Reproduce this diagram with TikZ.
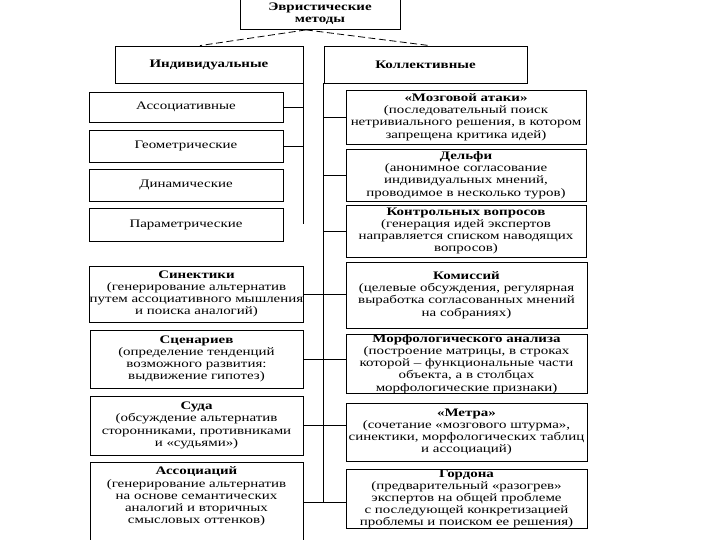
\documentclass[tikz,border=0pt]{standalone}
\usepackage{fontspec}
\setmainfont[FakeStretch=1.3]{Liberation Serif}
\begin{document}
\begin{tikzpicture}[x=1pt,y=-1pt,
  box/.style={draw, line width=0.8pt, align=center, inner sep=0pt,
    font=\fontsize{11.5}{12.2}\selectfont},
  link/.style={line width=0.8pt},
  dashlink/.style={line width=0.8pt, dash pattern=on 7pt off 3.5pt}]
\useasboundingbox (0,0) rectangle (720,540);
\clip (0,0) rectangle (720,540);
\fill[white] (0,0) rectangle (720,540);
% header
\node[box, minimum width=160pt, minimum height=32pt, font=\fontsize{11.5}{11.5}\selectfont] (top) at (320,13.5) {\textbf{Эвристические}\\\textbf{методы}};
\node[box, minimum width=188pt, minimum height=37pt] (ind) at (209,64.5) {\textbf{Индивидуальные}};
\node[box, minimum width=203pt, minimum height=37pt] (col) at (425.5,64.5) {\textbf{Коллективные}};
% individual
\node[box, minimum width=194pt, minimum height=30pt] (ass) at (186,107) {Ассоциативные};
\node[box, minimum width=194pt, minimum height=32pt] (geo) at (186,146) {Геометрические};
\node[box, minimum width=194pt, minimum height=32pt] (dyn) at (186,185) {Динамические};
\node[box, minimum width=194pt, minimum height=33pt] (par) at (186,224.5) {Параметрические};
% collective, right column
\node[box, minimum width=240pt, minimum height=54pt] (moz) at (466,117) {\textbf{«Мозговой атаки»}\\(последовательный поиск\\нетривиального решения, в котором\\запрещена критика идей)};
\node[box, minimum width=240pt, minimum height=52pt] (del) at (466,175) {\textbf{Дельфи}\\(анонимное согласование\\индивидуальных мнений,\\проводимое в несколько туров)};
\node[box, minimum width=240pt, minimum height=52pt] (kon) at (466,231) {\textbf{Контрольных вопросов}\\(генерация идей экспертов\\направляется списком наводящих\\вопросов)};
\node[box, minimum width=241pt, minimum height=66pt] (kom) at (466.5,295) {\textbf{Комиссий}\\(целевые обсуждения, регулярная\\выработка согласованных мнений\\на собраниях)};
\node[box, minimum width=241pt, minimum height=58pt] (mor) at (466.5,364) {\textbf{Морфологического анализа}\\(построение матрицы, в строках\\которой -- функциональные части\\объекта, а в столбцах\\морфологические признаки)};
\node[box, minimum width=241pt, minimum height=58pt] (met) at (466.5,432) {\textbf{«Метра»}\\(сочетание «мозгового штурма»,\\синектики, морфологических таблиц\\и ассоциаций)};
\node[box, minimum width=241pt, minimum height=56pt] (gor) at (466.5,499) {\textbf{Гордона}\\(предварительный «разогрев»\\экспертов на общей проблеме\\с последующей конкретизацией\\проблемы и поиском ее решения)};
% collective, left column
\node[box, minimum width=213pt, minimum height=56pt] (sin) at (196.5,294) {\textbf{Синектики}\\(генерирование альтернатив\\путем ассоциативного мышления\\и поиска аналогий)};
\node[box, minimum width=213pt, minimum height=58pt] (sce) at (196.5,359) {\textbf{Сценариев}\\(определение тенденций\\возможного развития:\\выдвижение гипотез)};
\node[box, minimum width=213pt, minimum height=59pt] (sud) at (196.5,425.5) {\textbf{Суда}\\(обсуждение альтернатив\\сторонниками, противниками\\и «судьями»)};
\node[box, minimum width=213pt, minimum height=80pt] (aso) at (196.5,502) {};
\node[align=center, inner sep=0pt, font=\fontsize{11.5}{12.2}\selectfont] (asot) at (196.5,496.5) {\textbf{Ассоциаций}\\(генерирование альтернатив\\на основе семантических\\аналогий и вторичных\\смысловых оттенков)};
% dashed links
\draw[dashlink] ([xshift=-14pt]top.south) -- ([xshift=-9pt]ind.north);
\draw[dashlink] ([xshift=-14pt]top.south) -- ([xshift=4pt]col.north);
% individual spine
\draw[link] (ind.south east) -- ++(0,141);
\draw[link] (ass.east) -- (ass.east -| ind.east);
\draw[link] (geo.east) -- (geo.east -| ind.east);
% collective spine
\draw[link] (col.south west) -- (col.west |- aso.east);
\draw[link] (moz.west) -- (moz.west -| col.west);
\draw[link] (del.west) -- (del.west -| col.west);
\draw[link] (kon.west) -- (kon.west -| col.west);
\draw[link] (sin.east) -- (sin.east -| kom.west);
\draw[link] (sce.east) -- (sce.east -| mor.west);
\draw[link] (sud.east) -- (sud.east -| met.west);
\draw[link] (aso.east) -- (aso.east -| gor.west);
\end{tikzpicture}
\end{document}
